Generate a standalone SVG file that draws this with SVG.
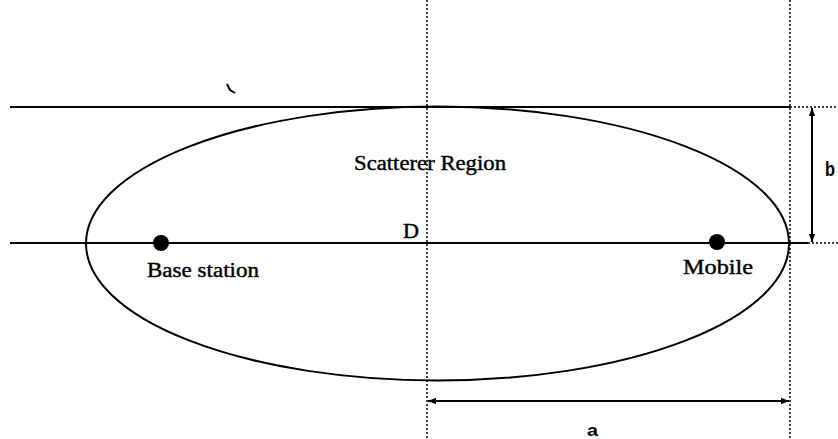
<svg xmlns="http://www.w3.org/2000/svg" width="838" height="439" viewBox="0 0 838 439">
<style>
.solid{stroke:#000;stroke-width:2;fill:none}
.dot{stroke:#000;stroke-width:1.5;stroke-dasharray:2,2;fill:none}
.lbl{font-family:"Liberation Serif",serif;font-size:20px;fill:#000;stroke:#000;stroke-width:0.4}
.big{font-family:"Liberation Sans",sans-serif;font-weight:bold;fill:#000}
</style>
<defs>
<marker id="ah" viewBox="0 0 10 10" refX="10" refY="5" markerWidth="8" markerHeight="9" orient="auto-start-reverse" markerUnits="userSpaceOnUse">
<path d="M0,1 L10,5 L0,9 z" fill="#000"/>
</marker>
</defs>
<rect width="838" height="439" fill="#fff"/>
<g id="connectors">
<line class="solid" x1="10" y1="107" x2="790" y2="107"/>
<line class="dot" x1="790" y1="107" x2="838" y2="107"/>
<line class="solid" x1="10" y1="243" x2="808" y2="243"/>
<line class="dot" x1="808" y1="243" x2="838" y2="243"/>
<line class="dot" x1="427" y1="0" x2="427" y2="439"/>
<line class="dot" x1="790" y1="0" x2="790" y2="439"/>
<line class="solid" x1="812" y1="108" x2="812" y2="242" marker-start="url(#ah)" marker-end="url(#ah)"/>
<line class="solid" x1="428" y1="401" x2="789" y2="401" marker-start="url(#ah)" marker-end="url(#ah)"/>
<path class="solid" d="M227,84 l3,6 l5,3" stroke-width="3"/>
</g>
<g id="scatterer-region">
<ellipse class="solid" cx="437.5" cy="243.5" rx="351.5" ry="137"/>
<text class="lbl" x="354" y="170" textLength="152" lengthAdjust="spacingAndGlyphs">Scatterer Region</text>
</g>
<g id="base-station">
<circle cx="161" cy="243" r="8" fill="#000"/>
<text class="lbl" x="147" y="277" textLength="112" lengthAdjust="spacingAndGlyphs">Base station</text>
</g>
<g id="mobile">
<circle cx="717" cy="242" r="8" fill="#000"/>
<text class="lbl" x="683" y="274" textLength="70" lengthAdjust="spacingAndGlyphs">Mobile</text>
</g>
<g id="labels">
<text class="lbl" x="403" y="238" textLength="16" lengthAdjust="spacingAndGlyphs">D</text>
<text class="big" x="825" y="176" font-size="20" textLength="10" lengthAdjust="spacingAndGlyphs">b</text>
<text class="big" x="587" y="436" font-size="17" textLength="11" lengthAdjust="spacingAndGlyphs">a</text>
</g>
</svg>
